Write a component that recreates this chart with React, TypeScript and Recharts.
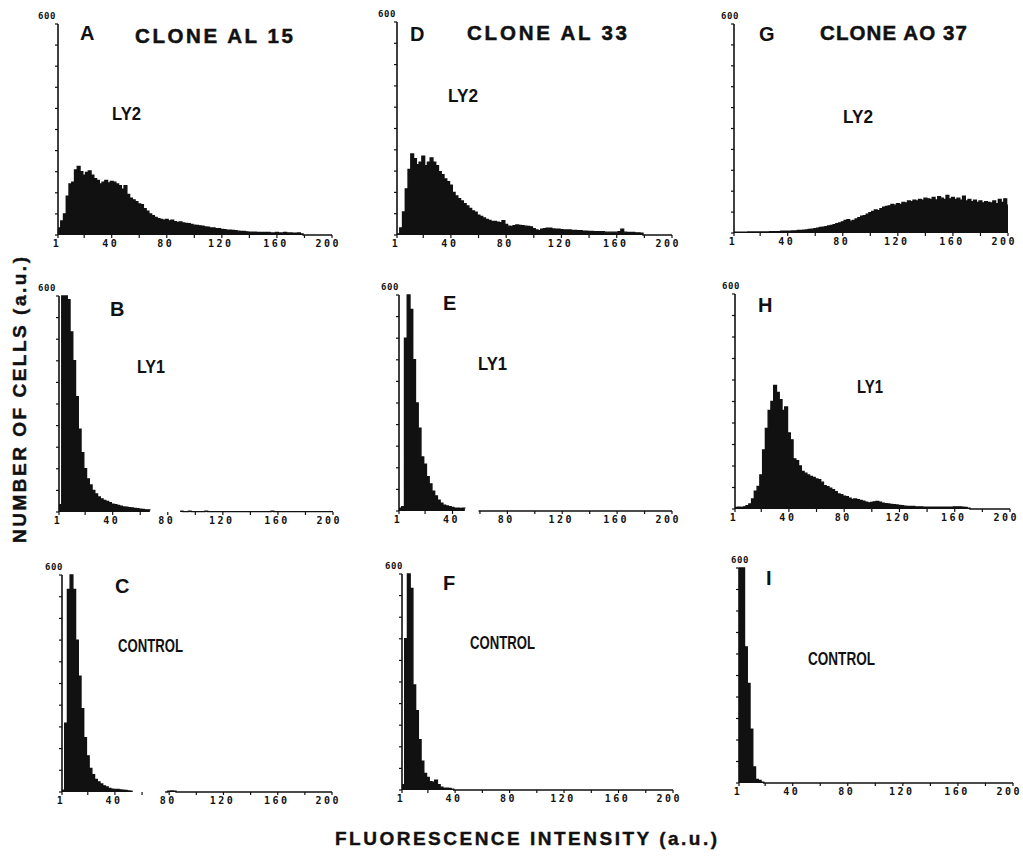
import React from "react"
import { AreaChart, Area, XAxis, YAxis } from "recharts"

// histograms are binned by 2 fluorescence channels: bins start at 1, 3, 5 ... 199
const BIN_STARTS = Array.from({ length: 100 }, (_, i) => 1 + i * 2)
const X_TICKS = [1, 20, 40, 60, 80, 100, 120, 140, 160, 180, 200]
const X_LABELED = [1, 40, 80, 120, 160, 200]
const Y_TICKS = [0, 60, 120, 180, 240, 300, 360, 420, 480, 540, 600]
const Y_LABELED = [600]

// counts per bin (null = no trace recorded on the scan)
const al15Ly2 = [
    20, 40, 60, 110, 145, 150, 185, 195, 180, 170,
    178, 182, 170, 160, 155, 145, 150, 155, 148, 152,
    150, 145, 140, 130, 140, 115, 105, 100, 95, 88,
    86, 75, 68, 60, 55, 50, 46, 44, 42, 44,
    40, 42, 38, 36, 37, 34, 33, 32, 30, 28,
    27, 26, 25, 23, 22, 20, 20, 18, 18, 16,
    15, 14, 14, 13, 12, 11, 10, 10, 9, 8,
    8, 8, 7, 7, 7, 7, 7, 6, 6, 7,
    6, 6, 7, 6, 6, 5, 5, 6, 3, 0,
    0, 0, 0, 0, 0, 0, 0, 0, 0, 0,
]
const al15Ly1 = [
    20, 600, 600, 590, 500, 420, 320, 230, 165, 120,
    92, 75, 60, 50, 42, 36, 32, 29, 26, 22,
    20, 18, 16, 14, 13, 12, 11, 10, 9, 8,
    7, 6, 6, 5, null, null, null, null, null, null,
    null, null, null, null, 2, 1, 1, 2, 1, 1,
    1, 1, 1, 2, 1, 1, 1, 1, 1, 1,
    1, 1, 1, 1, 1, 1, 1, 1, 1, 1,
    1, 1, 1, 1, 1, 1, 1, 2, 1, 1,
    1, 1, 1, 1, 1, 1, 1, 1, 1, 1,
    1, 1, 1, 1, 1, 1, 1, 1, 1, 1,
]
const al15Control = [
    5, 190, 560, 600, 560, 420, 320, 230, 150, 100,
    65, 48, 35, 28, 22, 17, 14, 10, 8, 7,
    7, 6, 5, 4, 3, 2, 2, null, null, null,
    null, null, null, null, null, null, null, null, 0, 2,
    3, 2, 0, 0, 0, 0, 0, 0, 0, 0,
    0, 0, 0, 0, 0, 0, 0, 0, 0, 0,
    0, 0, 0, 0, 0, 0, 0, 0, 0, 0,
    0, 0, 0, 0, 0, 0, 0, 0, 0, 0,
    0, 0, 0, 0, 0, 0, 0, 0, 0, 0,
    0, 0, 0, 0, 0, 0, 0, 0, 0, 0,
]
const al33Ly2 = [
    3, 20, 65, 130, 185, 228, 215, 198, 205, 222,
    195, 205, 217, 205, 195, 178, 170, 158, 150, 140,
    120, 110, 102, 96, 88, 82, 75, 68, 64, 56,
    52, 48, 44, 41, 38, 38, 36, 35, 40, 30,
    25, 24, 26, 28, 27, 26, 25, 24, 23, 18,
    14, 12, 16, 18, 19, 19, 17, 16, 16, 15,
    14, 14, 14, 13, 13, 12, 12, 11, 11, 10,
    10, 9, 9, 9, 9, 8, 8, 8, 8, 8,
    9, 16, 8, 7, 7, 7, 6, 6, 5, 0,
    0, 0, 0, 0, 0, 0, 0, 0, 0, 0,
]
const al33Ly1 = [
    8, 12, 480, 600, 560, 420, 300, 230, 150, 130,
    95, 75, 55, 42, 30, 22, 16, 14, 12, 10,
    8, 8, 7, 8, 7, null, null, null, null, 0,
    0, 0, 0, 0, 0, 0, 0, 0, 0, 0,
    0, 0, 0, 0, 0, 0, 0, 0, 0, 0,
    0, 0, 0, 0, 0, 0, 0, 0, 0, 0,
    0, 0, 0, 0, 0, 0, 0, 0, 0, 0,
    0, 0, 0, 0, 0, 0, 0, 0, 0, 0,
    0, 0, 0, 0, 0, 0, 0, 0, 0, 0,
    0, 0, 0, 0, 0, 0, 0, 0, 0, 0,
]
const al33Control = [
    15, 420, 600, 560, 292, 220, 140, 80, 46, 35,
    23, 22, 27, 15, 8, 5, 5, 4, 2, 0,
    0, 0, 0, 0, 0, 0, 0, 0, 0, 0,
    0, 0, 0, 0, 0, 0, 0, 0, 0, 0,
    0, 0, 0, 0, 0, 0, 0, 0, 0, 0,
    0, 0, 0, 0, 0, 0, 0, 0, 0, 0,
    0, 0, 0, 0, 0, 0, 0, 0, 0, 0,
    0, 0, 0, 0, 0, 0, 0, 0, 0, 0,
    0, 0, 0, 0, 0, 0, 0, 0, 0, 0,
    0, 0, 0, 0, 0, 0, 0, 0, 0, 0,
]
const ao37Ly2 = [
    2, 2, 2, 2, 2, 3, 3, 3, 3, 3,
    3, 3, 3, 4, 4, 4, 4, 5, 5, 5,
    5, 6, 6, 7, 7, 8, 9, 10, 11, 12,
    14, 16, 17, 18, 20, 22, 24, 27, 29, 32,
    36, 38, 34, 36, 40, 44, 48, 50, 54, 58,
    62, 66, 64, 70, 74, 76, 78, 82, 80, 84,
    82, 88, 86, 92, 90, 94, 92, 96, 94, 100,
    98, 96, 102, 95, 104, 100, 96, 108, 98, 102,
    96, 100, 94, 106, 92, 96, 90, 94, 88, 92,
    86, 90, 88, 86, 92, 84, 96, 88, 98, 80,
]
const ao37Ly1 = [
    4, 5, 4, 6, 9, 14, 28, 50, 63, 95,
    165, 225, 275, 300, 345, 325, 305, 275, 285, 212,
    193, 140, 135, 120, 105, 100, 95, 91, 88, 84,
    82, 75, 65, 62, 58, 54, 48, 42, 40, 36,
    34, 30, 27, 28, 26, 24, 22, 19, 17, 18,
    20, 21, 19, 16, 15, 14, 13, 12, 11, 10,
    9, 8, 7, 7, 7, 6, 6, 6, 5, 5,
    5, 5, 5, 5, 5, 5, 5, 5, 5, 6,
    6, 6, 5, 4, 2, 0, 0, 0, 0, 0,
    0, 0, 0, 0, 0, 0, 0, 0, 0, 0,
]
const ao37Control = [
    600, 600, 380, 278, 150, 45, 10, 7, 2, 0,
    0, 0, 0, 0, 0, 0, 0, 0, 0, 0,
    0, 0, 0, 0, 0, 0, 0, 0, 0, 0,
    0, 0, 0, 0, 0, 0, 0, 0, 0, 0,
    0, 0, 0, 0, 0, 0, 0, 0, 0, 0,
    0, 0, 0, 0, 0, 0, 0, 0, 0, 0,
    0, 0, 0, 0, 0, 0, 0, 0, 0, 0,
    0, 0, 0, 0, 0, 0, 0, 0, 0, 0,
    0, 0, 0, 0, 0, 0, 0, 0, 0, 0,
    0, 0, 0, 0, 0, 0, 0, 0, 0, 0,
]

const INK = "#111"
const SANS = "'Liberation Sans', Arial, sans-serif"
const MONO = "'DejaVu Sans Mono', 'Liberation Mono', monospace"
// axis band sizes, kept small so the plot area sits where the margins say
const Y_AXIS_W = 10
const X_AXIS_H = 14
const M = { top: 16, right: 18, bottom: 4, left: 14 }

// plot rectangles on the page (left/top of the plot area, in px)
const PANELS = [
    { counts: al15Ly2, left: 58, top: 24, width: 274, height: 211, labelDx: -11 },
    { counts: al15Ly1, left: 59, top: 296, width: 274, height: 216, labelDx: -12 },
    { counts: al15Control, left: 62, top: 575, width: 270, height: 217, labelDx: -8 },
    { counts: al33Ly2, left: 397, top: 22, width: 275, height: 213, labelDx: -10 },
    { counts: al33Ly1, left: 399, top: 295, width: 273, height: 216, labelDx: -9 },
    { counts: al33Control, left: 402, top: 574, width: 271, height: 216, labelDx: -8 },
    { counts: ao37Ly2, left: 734, top: 24, width: 274, height: 209, labelDx: -4 },
    { counts: ao37Ly1, left: 735, top: 294, width: 275, height: 215, labelDx: -4 },
    { counts: ao37Control, left: 739, top: 568, width: 274, height: 215, labelDx: 1 },
]

const LETTERS = [
    { t: "A", x: 80, y: 40 }, { t: "B", x: 110, y: 316 }, { t: "C", x: 115, y: 593 },
    { t: "D", x: 410, y: 41 }, { t: "E", x: 443, y: 310 }, { t: "F", x: 443, y: 590 },
    { t: "G", x: 759, y: 41 }, { t: "H", x: 758, y: 312 }, { t: "I", x: 766, y: 585 },
]
const TITLES = [
    { t: "CLONE AL 15", x: 135, y: 43, len: 158 },
    { t: "CLONE AL 33", x: 467, y: 40, len: 160 },
    { t: "CLONE AO 37", x: 820, y: 40, len: 147 },
]
const MARKERS = [
    { t: "LY2", x: 112, y: 120, len: 29 }, { t: "LY2", x: 448, y: 102, len: 30 }, { t: "LY2", x: 843, y: 123, len: 30 },
    { t: "LY1", x: 137, y: 373, len: 28 }, { t: "LY1", x: 478, y: 370, len: 29 }, { t: "LY1", x: 857, y: 393, len: 26 },
    { t: "CONTROL", x: 118, y: 652, len: 65 }, { t: "CONTROL", x: 470, y: 649, len: 65 }, { t: "CONTROL", x: 808, y: 665, len: 67 },
]

const toRows = (counts: (number | null)[]) => {
    const rows = BIN_STARTS.map((x, i) => ({ x, count: counts[i] }))
    // close the last bin at channel 200
    rows.push({ x: 200, count: counts[counts.length - 1] })
    return rows
}

function XTick({ x, y, payload }: any) {
    if (!X_LABELED.includes(payload.value)) return <g />
    const last = payload.value === 200
    return (
        <text x={last ? x + 9 : x - 1} y={y + 8.5} textAnchor={last ? "end" : "middle"} fontFamily={MONO}
            fontWeight={700} fontSize={10} letterSpacing={2.5} fill={INK}>
            {payload.value}
        </text>
    )
}

function YTick({ x, y, payload, dx }: any) {
    if (!Y_LABELED.includes(payload.value)) return <g />
    return (
        <text x={x + 3 + dx} y={y - 5} textAnchor="middle" fontFamily={MONO} fontWeight={700}
            fontSize={9} letterSpacing={0.5} fill={INK}>
            {payload.value}
        </text>
    )
}

function Panel({ p }: any) {
    const w = p.width + M.left + Y_AXIS_W + M.right
    const h = p.height + M.top + X_AXIS_H + M.bottom
    return (
        <div style={{ position: "absolute", left: p.left - M.left - Y_AXIS_W, top: p.top - M.top }}>
            <AreaChart width={w} height={h} data={toRows(p.counts)} margin={M}>
                <XAxis
                    type="number"
                    dataKey="x"
                    domain={[1, 200]}
                    ticks={X_TICKS}
                    interval={0}
                    height={X_AXIS_H}
                    axisLine={false}
                    tickLine={{ stroke: INK, strokeWidth: 1.2 }}
                    tickSize={3}
                    tickMargin={0}
                    tick={(props: any) => <XTick {...props} />}
                />
                <YAxis
                    type="number"
                    domain={[0, 600]}
                    ticks={Y_TICKS}
                    interval={0}
                    width={Y_AXIS_W}
                    axisLine={{ stroke: INK, strokeWidth: 1.6 }}
                    tickLine={{ stroke: INK, strokeWidth: 1.2 }}
                    tickSize={3}
                    tickMargin={0}
                    tick={(props: any) => <YTick {...props} dx={p.labelDx} />}
                />
                <Area
                    type="stepAfter"
                    dataKey="count"
                    stroke={INK}
                    strokeWidth={1.4}
                    fill={INK}
                    fillOpacity={1}
                    connectNulls={false}
                    dot={false}
                    activeDot={false}
                    isAnimationActive={false}
                />
            </AreaChart>
        </div>
    )
}

export default function App() {
    return (
        <div style={{ position: "absolute", left: 0, top: 0, width: 1023, height: 857, background: "#fff", overflow: "hidden" }}>
            {PANELS.map((p, i) => (
                <Panel key={i} p={p} />
            ))}
            <svg width={1023} height={857} style={{ position: "absolute", left: 0, top: 0, pointerEvents: "none" }}>
                {LETTERS.map((l) => (
                    <text key={l.t} x={l.x} y={l.y} fontFamily={SANS} fontWeight={700} fontSize={20} fill={INK}>
                        {l.t}
                    </text>
                ))}
                {TITLES.map((t) => (
                    <text key={t.t} x={t.x} y={t.y} fontFamily={SANS} fontWeight={700} fontSize={20.5} fill={INK}
                        stroke={INK} strokeWidth={0.5} textLength={t.len} lengthAdjust="spacing">
                        {t.t}
                    </text>
                ))}
                {MARKERS.map((m, i) => (
                    <text key={i} x={m.x} y={m.y} fontFamily={SANS} fontWeight={700} fontSize={18} fill={INK}
                        textLength={m.len} lengthAdjust="spacingAndGlyphs">
                        {m.t}
                    </text>
                ))}
                <text x={335} y={845} fontFamily={SANS} fontWeight={700} fontSize={19} fill={INK}
                    stroke={INK} strokeWidth={0.4} textLength={382} lengthAdjust="spacing">
                    FLUORESCENCE INTENSITY (a.u.)
                </text>
                <text x={26} y={400} transform="rotate(-90 26 400)" textAnchor="middle" fontFamily={SANS}
                    fontWeight={700} fontSize={19} fill={INK} stroke={INK} strokeWidth={0.4}
                    textLength={286} lengthAdjust="spacing">
                    NUMBER OF CELLS (a.u.)
                </text>
            </svg>
        </div>
    )
}
